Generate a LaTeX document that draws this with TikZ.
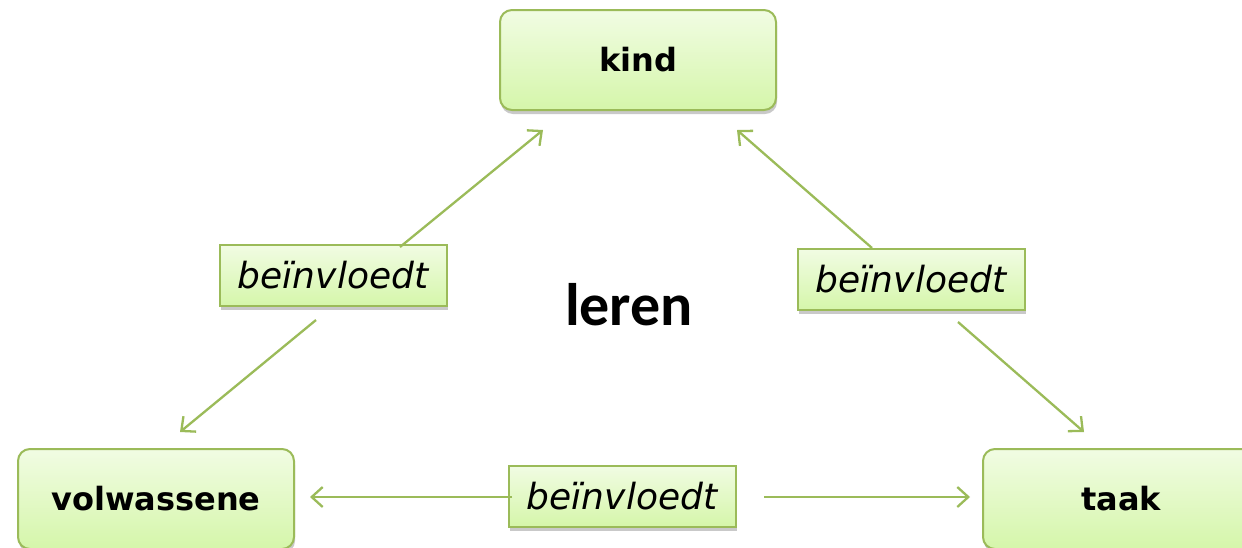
\documentclass[tikz,border=0pt]{standalone}
\usepackage{fontspec}
\newfontfamily\dvfont{DejaVu Sans}
\newfontfamily\carlfont{Carlito}
\usetikzlibrary{arrows.meta,shadows}
\definecolor{gborder}{HTML}{9BBB59}
\definecolor{gtop}{HTML}{F1FCE3}
\definecolor{gbot}{HTML}{D5F6AA}
\tikzset{
  mainbox/.style={draw=gborder, line width=2pt, rounded corners=12pt,
    top color=gtop, bottom color=gbot, minimum width=276pt, minimum height=100pt,
    inner sep=0pt, font=\dvfont\bfseries\fontsize{32}{38}\selectfont,
    drop shadow={shadow xshift=1pt, shadow yshift=-4pt, opacity=0.35, fill=black!60}},
  labbox/.style={draw=gborder, line width=2pt,
    top color=gtop, bottom color=gbot, minimum width=227pt, minimum height=61pt,
    inner sep=0pt, font=\dvfont\itshape\fontsize{36}{42}\selectfont,
    drop shadow={shadow xshift=1pt, shadow yshift=-4pt, opacity=0.35, fill=black!60}},
  conn/.style={draw=gborder, line width=2.3pt, -{Straight Barb[length=11pt,width=20pt,line width=2.3pt]}},
}
\begin{document}
\begin{tikzpicture}[x=1pt,y=-1pt]
\useasboundingbox (0,0) rectangle (1242,547);
\clip (0,0) rectangle (1242,547);
\fill[white] (0,0) rectangle (1242,547);

\node[mainbox] (kind) at (638,60) {kind};
\node[mainbox] (volw) at (156,499) {volwassene};
\node[mainbox] (taak) at (1121,499) {taak};

\node[labbox] (lab1) at (333,275.5) {beïnvloedt};
\node[labbox] (lab2) at (911,279.5) {beïnvloedt};
\node[labbox] (lab3) at (622,496) {beïnvloedt};

\node[font=\carlfont\bfseries\fontsize{60}{70}\selectfont, anchor=base, inner sep=0pt] (leren) at (629,325) {leren};

\coordinate (a1s) at (400,247);
\coordinate (a1e) at (543,130);
\coordinate (a2s) at (316,320);
\coordinate (a2e) at (180,432);
\coordinate (a3s) at (872,248);
\coordinate (a3e) at (737,130);
\coordinate (a4s) at (958,322);
\coordinate (a4e) at (1084,432);
\coordinate (a5s) at (512,497);
\coordinate (a5e) at (310,497);
\coordinate (a6s) at (764,497);
\coordinate (a6e) at (970,497);

\draw[conn] (a1s) -- (a1e);
\draw[conn] (a2s) -- (a2e);
\draw[conn] (a3s) -- (a3e);
\draw[conn] (a4s) -- (a4e);
\draw[conn] (a5s) -- (a5e);
\draw[conn] (a6s) -- (a6e);
\end{tikzpicture}
\end{document}
